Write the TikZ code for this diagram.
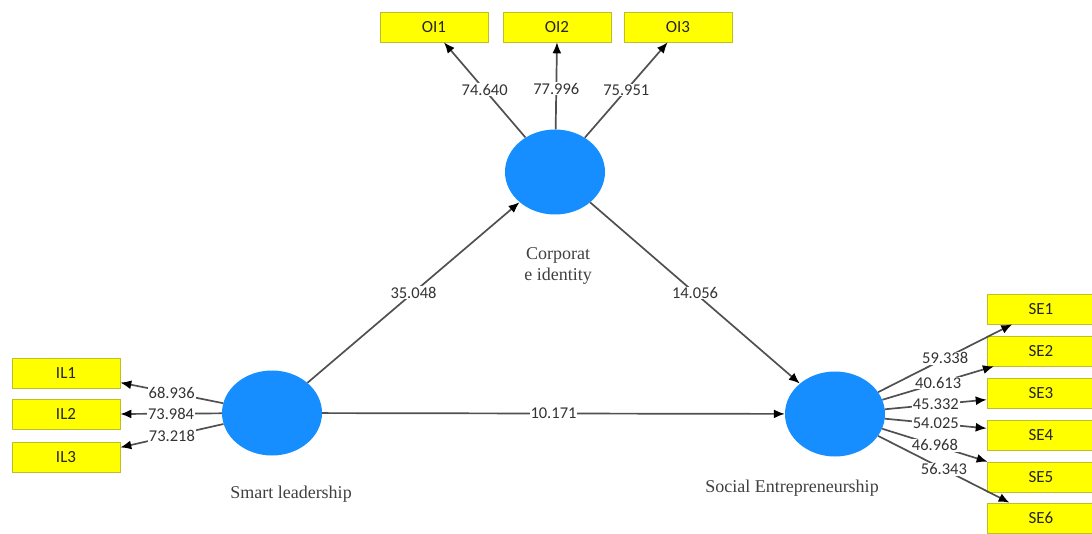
\documentclass[tikz,border=0pt]{standalone}
\usepackage{fontspec}
\setmainfont{Liberation Serif}
\newfontfamily\numfont{Carlito}
\usetikzlibrary{shapes.geometric,arrows.meta}
\definecolor{latblue}{RGB}{22,142,255}
\definecolor{boxyel}{RGB}{255,255,0}
\definecolor{boxedge}{RGB}{190,190,40}
\definecolor{linegray}{RGB}{80,80,80}
\begin{document}
\begin{tikzpicture}[x=1pt,y=-1pt,
  latent/.style={ellipse,fill=latblue,draw=none,minimum width=100pt,minimum height=85pt,inner sep=0pt},
  ind/.style={rectangle,fill=boxyel,draw=boxedge,line width=0.6pt,minimum width=108pt,minimum height=30pt,inner sep=0pt,font=\numfont\fontsize{17}{20}\selectfont,text=black!85},
  lbl/.style={fill=white,inner sep=0.8pt,font=\numfont\fontsize{16.5}{19}\selectfont,text=black!80},
  latname/.style={font=\fontsize{18}{21}\selectfont,text=black!75,align=center},
  conn/.style={draw=linegray,line width=1.7pt,-{Latex[black,length=11pt,width=9pt]}}
]
\useasboundingbox (0,0) rectangle (1092,534);
% latent variables
\node[latent] (ci) at (555,172) {};
\node[latent] (sl) at (272,413) {};
\node[latent] (se) at (835,414) {};
% latent names
\node[latname] (ciname) at (558,266) {Corporat\\e identity};
\node[latname] (slname) at (291,494) {Smart leadership};
\node[latname] (sename) at (792,488) {Social Entrepreneurship};
% indicators
\node[ind] (oi1) at (434,27) {OI1};
\node[ind] (oi2) at (557,27) {OI2};
\node[ind] (oi3) at (678,27) {OI3};
\node[ind] (il1) at (66,373) {IL1};
\node[ind] (il2) at (66,414) {IL2};
\node[ind] (il3) at (66,457) {IL3};
\node[ind] (se1) at (1041,309) {SE1};
\node[ind] (se2) at (1041,351) {SE2};
\node[ind] (se3) at (1041,393) {SE3};
\node[ind] (se4) at (1041,435) {SE4};
\node[ind] (se5) at (1041,477) {SE5};
\node[ind] (se6) at (1041,518) {SE6};
% structural paths
\draw[conn] (sl) -- node[lbl]{35.048} (ci);
\draw[conn] (ci) -- node[lbl]{14.056} (se);
\draw[conn] (sl) -- node[lbl]{10.171} (se);
% outer loadings
\draw[conn] (ci) -- node[lbl]{74.640} (oi1.-57);
\draw[conn] (ci) -- node[lbl,yshift=-3pt]{77.996} (oi2.south);
\draw[conn] (ci) -- node[lbl]{75.951} (oi3.-124);
\draw[conn] (sl) -- node[lbl]{68.936} (il1.-10);
\draw[conn] (sl) -- node[lbl]{73.984} (il2.east);
\draw[conn] (sl) -- node[lbl]{73.218} (il3.10);
\draw[conn] (se) -- node[lbl]{59.338} (se1.208);
\draw[conn] (se) -- node[lbl]{40.613} (se2.198);
\draw[conn] (se) -- node[lbl]{45.332} (se3.187);
\draw[conn] (se) -- node[lbl]{54.025} (se4.173);
\draw[conn] (se) -- node[lbl]{46.968} (se5.164);
\draw[conn] (se) -- node[lbl]{56.343} (se6.154);
\end{tikzpicture}
\end{document}
